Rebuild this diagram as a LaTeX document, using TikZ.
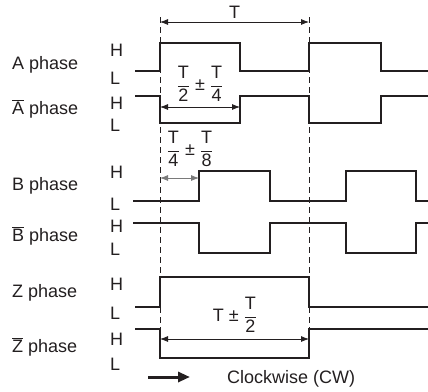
\documentclass[tikz,border=0pt]{standalone}
\usepackage{fontspec}
\setmainfont{Liberation Sans}
\usetikzlibrary{arrows.meta}
\definecolor{ink}{HTML}{231F20}
\definecolor{greyline}{HTML}{7A7A7A}
\newcommand\phasefont{\fontsize{18}{21}\selectfont}
\newcommand\frc[2]{$\displaystyle\frac{\mbox{#1}}{\mbox{#2}}$}
\newcommand\bartext[1]{$\overline{\mbox{#1}}$}

\begin{document}
\begin{tikzpicture}[x=1pt,y=-1pt,
        wave/.style={draw=ink,line width=1.6pt,line join=miter},
        guide/.style={draw=ink,line width=1pt,dash pattern=on 6pt off 4pt},
        dim/.style={draw=ink,line width=0.8pt,{Latex[length=8pt,width=6pt]}-{Latex[length=8pt,width=6pt]}},
        lbl/.style={text=ink,inner sep=0pt,font=\phasefont,anchor=base west},
        val/.style={text=ink,inner sep=0pt,font=\phasefont}]
        \useasboundingbox (0,0) rectangle (428,391);

        % phase names
        \node[lbl] (aname)  at (12,69)  {A phase};
        \node[lbl] (abname) at (12,114) {\bartext{A} phase};
        \node[lbl] (bname)  at (12,190) {B phase};
        \node[lbl] (bbname) at (12,241) {\bartext{B} phase};
        \node[lbl] (zname)  at (12,297) {Z phase};
        \node[lbl] (zbname) at (12,352) {\bartext{Z} phase};

        % levels
        \node[lbl] (ah)  at (110,56)  {H};
        \node[lbl] (al)  at (110,84)  {L};
        \node[lbl] (abh) at (110,109) {H};
        \node[lbl] (abl) at (110,131) {L};
        \node[lbl] (bh)  at (110,178) {H};
        \node[lbl] (bl)  at (110,210) {L};
        \node[lbl] (bbh) at (110,232) {H};
        \node[lbl] (bbl) at (110,255) {L};
        \node[lbl] (zh)  at (110,290) {H};
        \node[lbl] (zl)  at (110,319) {L};
        \node[lbl] (zbh) at (110,345) {H};
        \node[lbl] (zbl) at (110,370) {L};

        % period marks
        \coordinate (m1top) at (160,17);
        \coordinate (m1bot) at (160,330);
        \coordinate (m2top) at (309,17);
        \coordinate (m2bot) at (309,330);
        \path[guide] (m1top) -- (m1bot);
        \path[guide] (m2top) -- (m2bot);

        % waveforms
        \path[wave] (135,71) -- (160,71) -- (160,43) -- (240,43) -- (240,71)
                    -- (309,71) -- (309,43) -- (381,43) -- (381,71) -- (428,71);
        \path[wave] (135,96) -- (160,96) -- (160,123) -- (240,123) -- (240,96)
                    -- (309,96) -- (309,123) -- (381,123) -- (381,96) -- (428,96);
        \path[wave] (133,201) -- (199,201) -- (199,171) -- (270,171) -- (270,201)
                    -- (346,201) -- (346,171) -- (416,171) -- (416,201) -- (428,201);
        \path[wave] (133,223) -- (199,223) -- (199,253) -- (270,253) -- (270,223)
                    -- (346,223) -- (346,253) -- (416,253) -- (416,223) -- (428,223);
        \path[wave] (135,307) -- (160,307) -- (160,277) -- (309,277) -- (309,307)
                    -- (428,307);
        \path[wave] (135,329) -- (160,329) -- (160,358) -- (309,358) -- (309,329)
                    -- (428,329);

        % dimensions
        \coordinate (ts) at (160,22);
        \coordinate (te) at (309,22);
        \path[dim] (ts) -- (te);
        \node[val,anchor=base] (tlbl) at (234.5,18) {T};

        \coordinate (hs) at (160,107);
        \coordinate (he) at (240,107);
        \path[dim] (hs) -- (he);
        \node[val] (hlbl) at (200,84) {\frc{T}{2}\hspace{5pt}±\hspace{5pt}\frc{T}{4}};

        \coordinate (qs) at (160,178);
        \coordinate (qe) at (199,178);
        \path[dim,draw=greyline] (qs) -- (qe);
        \node[val] (qlbl) at (190,149) {\frc{T}{4}\hspace{5pt}±\hspace{5pt}\frc{T}{8}};

        \coordinate (zs) at (160,339);
        \coordinate (ze) at (309,339);
        \path[dim] (zs) -- (ze);
        \node[val] (zlbl) at (235,315) {T\hspace{5pt}±\hspace{5pt}\frc{T}{2}};

        % direction
        \coordinate (cws) at (148,377);
        \coordinate (cwe) at (190,377);
        \draw[ink,line width=3pt,-{Triangle[length=12pt,width=10pt]}] (cws) -- (cwe);
        \node[lbl] (cwlbl) at (227,383) {Clockwise (CW)};
\end{tikzpicture}
\end{document}
